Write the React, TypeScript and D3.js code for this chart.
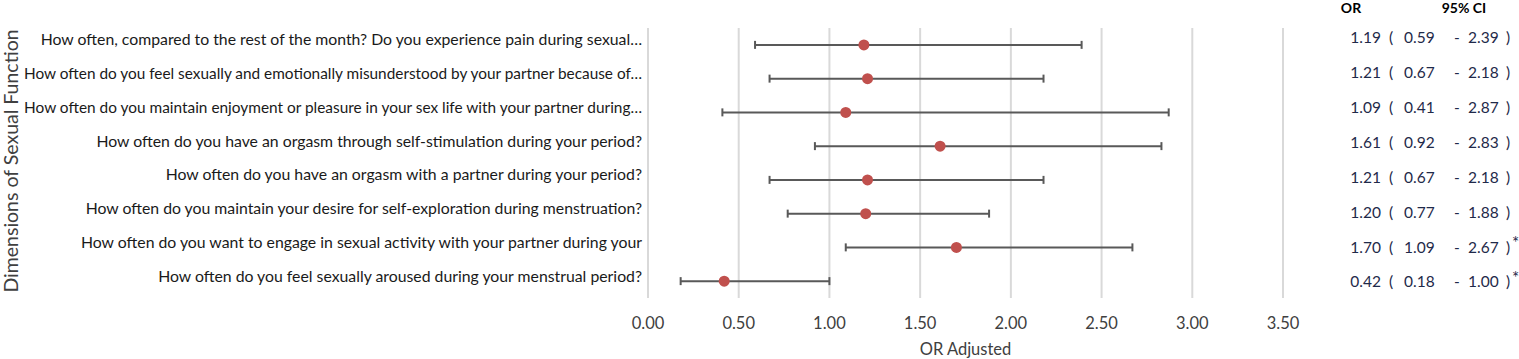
import React, { useEffect, useRef } from 'react';
import * as d3 from 'd3';

// rows, top to bottom
const questions = [
  'How often, compared to the rest of the month? Do you experience pain during sexual…',
  'How often do you feel sexually and emotionally misunderstood by your partner because of…',
  'How often do you maintain enjoyment or pleasure in your sex life with your partner during…',
  'How often do you have an orgasm through self-stimulation during your period?',
  'How often do you have an orgasm with a partner during your period?',
  'How often do you maintain your desire for self-exploration during menstruation?',
  'How often do you want to engage in sexual activity with your partner during your',
  'How often do you feel sexually aroused during your menstrual period?',
];
const orValues = [1.19, 1.21, 1.09, 1.61, 1.21, 1.2, 1.7, 0.42];
const ciLow = [0.59, 0.67, 0.41, 0.92, 0.67, 0.77, 1.09, 0.18];
const ciHigh = [2.39, 2.18, 2.87, 2.83, 2.18, 1.88, 2.67, 1.0];
const significant = [false, false, false, false, false, false, true, true];
const xTicks = [0, 0.5, 1, 1.5, 2, 2.5, 3, 3.5];

const FONT = 'Lato, "Open Sans", sans-serif';

const App: React.FC = () => {
  const svgRef = useRef<SVGSVGElement | null>(null);

  useEffect(() => {
    if (!svgRef.current) return;
    const width = 1519;
    const height = 359;
    const svg = d3.select(svgRef.current);
    svg.selectAll('*').remove();

    const x = d3.scaleLinear().domain([0, 3.5]).range([648, 1283]);
    const rows = questions.map((_, i) => String(i));
    const y = d3.scaleBand().domain(rows).range([28, 298]);
    const yc = (i: number) => y(String(i))! + y.bandwidth() / 2;
    // the table on the right uses its own row spacing
    const yt = d3.scalePoint().domain(rows).range([38, 282]);

    svg.append('rect').attr('width', width).attr('height', height).attr('fill', '#fff');

    // grid lines
    svg.append('g')
      .selectAll('line')
      .data(xTicks)
      .enter()
      .append('line')
      .attr('x1', (d) => x(d))
      .attr('x2', (d) => x(d))
      .attr('y1', 28)
      .attr('y2', 298)
      .attr('stroke', '#d9d9d9')
      .attr('stroke-width', 2);

    // tick labels
    svg.append('g')
      .selectAll('text')
      .data(xTicks)
      .enter()
      .append('text')
      .attr('x', (d) => x(d))
      .attr('y', 329)
      .attr('text-anchor', 'middle')
      .attr('font-family', FONT)
      .attr('font-size', 16.5)
      .attr('fill', '#404040')
      .text((d) => d3.format('.2f')(d));

    svg.append('text')
      .attr('x', (x(0) + x(3.5)) / 2)
      .attr('y', 355)
      .attr('text-anchor', 'middle')
      .attr('font-family', FONT)
      .attr('font-size', 16.5)
      .attr('fill', '#404040')
      .text('OR Adjusted');

    svg.append('text')
      .attr('transform', 'translate(18,161) rotate(-90)')
      .attr('text-anchor', 'middle')
      .attr('font-family', FONT)
      .attr('font-size', 19.5)
      .attr('fill', '#404040')
      .text('Dimensions of Sexual Function');

    // question labels; the longest ones are squeezed to stay clear of the title
    const labelRight = 642;
    const maxLabelW = labelRight - 24;
    svg.append('g')
      .selectAll('text')
      .data(questions)
      .enter()
      .append('text')
      .attr('x', labelRight)
      .attr('y', (_, i) => yc(i) - 5)
      .attr('dy', '0.35em')
      .attr('text-anchor', 'end')
      .attr('font-family', FONT)
      .attr('font-size', 15.8)
      .attr('fill', '#1a1a1a')
      .text((d) => d)
      .each(function () {
        const t = this as SVGTextElement;
        if (t.getComputedTextLength() > maxLabelW) {
          t.setAttribute('textLength', String(maxLabelW));
          t.setAttribute('lengthAdjust', 'spacingAndGlyphs');
        }
      });

    // error bars
    const bars = svg.append('g').attr('stroke', '#595959').attr('stroke-width', 2);
    orValues.forEach((_, i) => {
      const cy = yc(i);
      bars.append('line').attr('x1', x(ciLow[i])).attr('x2', x(ciHigh[i])).attr('y1', cy).attr('y2', cy);
      bars.append('line').attr('x1', x(ciLow[i])).attr('x2', x(ciLow[i])).attr('y1', cy - 4).attr('y2', cy + 4);
      bars.append('line').attr('x1', x(ciHigh[i])).attr('x2', x(ciHigh[i])).attr('y1', cy - 4).attr('y2', cy + 4);
    });

    // points
    svg.append('g')
      .selectAll('circle')
      .data(orValues)
      .enter()
      .append('circle')
      .attr('cx', (d) => x(d))
      .attr('cy', (_, i) => yc(i))
      .attr('r', 5.5)
      .attr('fill', '#c0504d');

    // table headers
    const hdr = svg.append('g')
      .attr('font-family', FONT)
      .attr('font-size', 14)
      .attr('font-weight', 'bold')
      .attr('fill', '#000')
      .attr('text-anchor', 'middle');
    hdr.append('text').attr('x', 1351).attr('y', 13).text('OR');
    hdr.append('text').attr('x', 1464).attr('y', 13).text('95% CI');

    // table rows
    const f = d3.format('.2f');
    const tbl = svg.append('g')
      .attr('font-family', FONT)
      .attr('font-size', 15.5)
      .attr('fill', '#1f2a4a');
    orValues.forEach((v, i) => {
      const ty = yt(String(i))!;
      const add = (tx: number, s: string, anchor = 'start') =>
        tbl.append('text').attr('x', tx).attr('y', ty).attr('dy', '0.35em').attr('text-anchor', anchor).text(s);
      add(1381, f(v), 'end');
      add(1391, '(', 'middle');
      add(1404, f(ciLow[i]));
      add(1457, '-', 'middle');
      add(1468, f(ciHigh[i]));
      add(1508, ')', 'middle');
      if (significant[i]) add(1512, '*').attr('dy', '0.1em').attr('font-size', 17);
    });
  }, []);

  return (
    <svg
      ref={svgRef}
      width={1519}
      height={359}
      style={{ position: 'absolute', left: 0, top: 0, display: 'block' }}
    />
  );
};

export default App;
